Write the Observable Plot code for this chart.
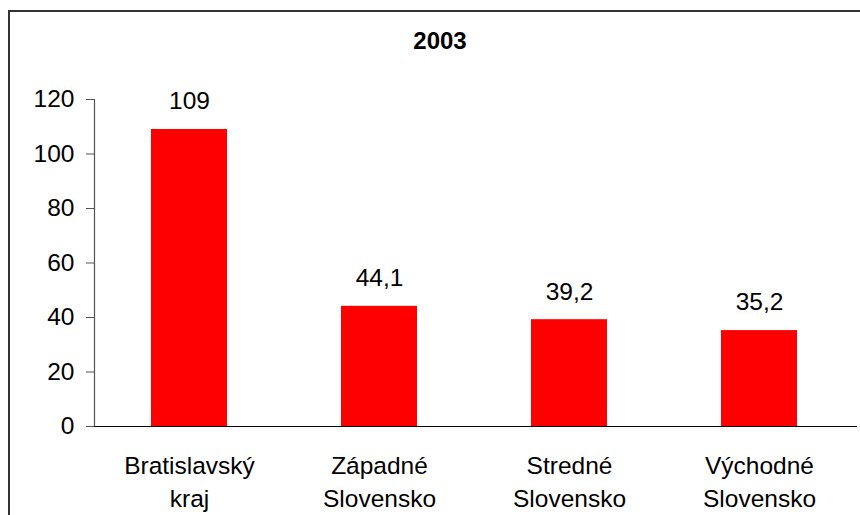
<!DOCTYPE html>
<html>
<head>
<meta charset="utf-8">
<script src="https://cdn.jsdelivr.net/npm/d3@7"></script>
<script src="https://cdn.jsdelivr.net/npm/@observablehq/plot@0.6"></script>
<style>
  html, body { margin: 0; padding: 0; background: #fff; }
  #wrap { position: relative; width: 860px; height: 515px; overflow: hidden; font-family: "Liberation Sans", Arial, sans-serif; }
  #frame { position: absolute; left: 8px; top: 10px; width: 900px; height: 600px; border-left: 2px solid #333; border-top: 2px solid #333; pointer-events: none; }
  #title { position: absolute; left: 10px; width: 860px; top: 27px; text-align: center; font-weight: bold; font-size: 24px; line-height: 28px; color: #000; }
  #chart { position: absolute; left: 0; top: 0; }
</style>
</head>
<body>
<div id="wrap">
  <div id="chart"></div>
  <div id="frame"></div>
  <div id="title">2003</div>
</div>
<script>
const categories = ["Bratislavský\nkraj", "Západné\nSlovensko", "Stredné\nSlovensko", "Východné\nSlovensko"];
const values = [109, 44.1, 39.2, 35.2];
const yTicks = [0, 20, 40, 60, 80, 100, 120];

const data = categories.map((c, i) => ({category: c, value: values[i]}));
const fmt = v => String(v).replace(".", ",");

const chart = Plot.plot({
  width: 860,
  height: 515,
  marginLeft: 94,
  marginRight: 3,
  marginTop: 99,
  marginBottom: 89,
  style: {fontFamily: "'Liberation Sans', Arial, sans-serif", fontSize: "24px", color: "#000", background: "transparent"},
  x: {domain: categories, range: [92, 855], paddingInner: 0.6, paddingOuter: 0.3},
  y: {domain: [0, 120]},
  marks: [
    Plot.barY(data, {x: "category", y: "value", fill: "#ff0000"}),
    Plot.text(data, {x: "category", y: "value", text: d => fmt(d.value), dy: -28, fontSize: 24.5, fill: "#000"}),
    Plot.frame({anchor: "left", stroke: "#555", strokeWidth: 1.2}),
    Plot.axisY({ticks: yTicks, tickSize: 8, tickPadding: 12, label: null, fontSize: 24.5, stroke: "#555", strokeOpacity: 1, fill: "#000"}),
    Plot.axisX({tickSize: 0, tickPadding: 24, label: null, fontSize: 24.5, lineHeight: 1.35, fill: "#000"}),
    Plot.ruleY([0], {stroke: "#000", strokeWidth: 1.2})
  ]
});
document.getElementById("chart").appendChild(chart);
</script>
</body>
</html>
